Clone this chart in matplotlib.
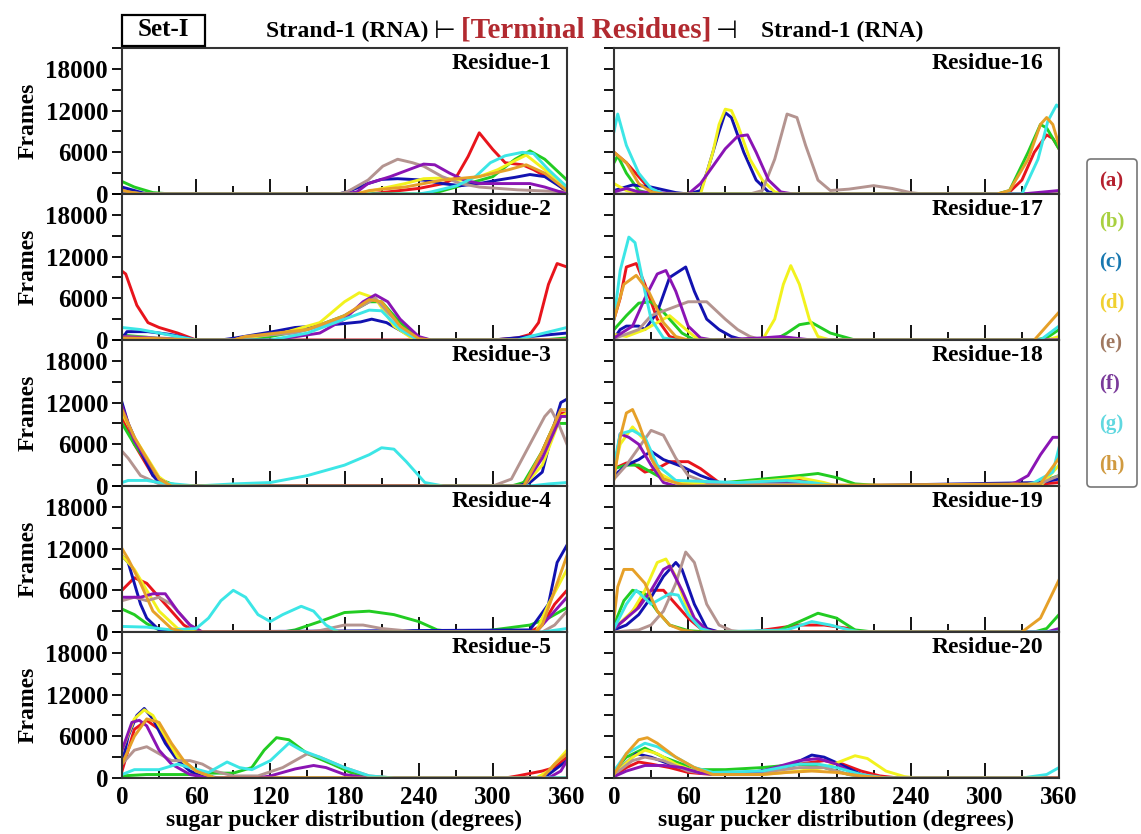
import matplotlib.pyplot as plt
import matplotlib.ticker as mticker
from matplotlib.lines import Line2D
from matplotlib.patches import Rectangle

plt.rcParams['font.family'] = ['Liberation Serif', 'DejaVu Sans']
plt.rcParams['font.weight'] = 'bold'

series = ['a', 'b', 'c', 'd', 'e', 'f', 'g', 'h']
line_colors = ['#e8141c', '#22cc22', '#1212b0', '#f2f21e',
               '#b49490', '#8a14b4', '#3ce6e6', '#e6a028']
label_colors = ['#b5202e', '#a8d040', '#1878b0', '#f0d030',
                '#a07860', '#7a3a9a', '#60d8e0', '#d09a40']

# knots: (degrees, frames in thousands)
res1 = {
    'a': [(0, 0.5), (15, 0), (200, 0), (240, 0.8), (260, 1.5), (270, 2.3), (280, 5.4), (289, 8.8), (300, 6.4), (310, 4.5), (324, 4.2), (333, 3.5), (348, 2), (360, 0.3)],
    'b': [(0, 1.8), (10, 1), (25, 0.2), (40, 0), (250, 0), (270, 1), (300, 2.5), (318, 5), (330, 6.2), (342, 5), (360, 2)],
    'c': [(0, 1), (10, 0.5), (20, 0), (175, 0), (182, 0.3), (199, 1.5), (210, 2.1), (223, 2.2), (244, 2), (259, 1.5), (274, 1.2), (289, 1.5), (304, 2), (318, 2.4), (330, 2.8), (342, 2.5), (355, 1), (360, 0.3)],
    'd': [(0, 0.3), (20, 0), (185, 0), (200, 0.4), (229, 1.5), (244, 2.2), (259, 2.3), (274, 2), (289, 2.5), (304, 3.5), (318, 4.8), (327, 5.6), (342, 3.5), (360, 1)],
    'e': [(0, 0.3), (20, 0), (175, 0), (182, 0.3), (199, 2), (211, 4), (223, 5), (235, 4.5), (244, 4), (259, 2.5), (274, 1.5), (289, 1), (320, 0.6), (360, 0.3)],
    'f': [(0, 0.2), (20, 0), (180, 0), (190, 0.3), (199, 1.5), (217, 2.5), (229, 3.3), (244, 4.3), (253, 4.2), (265, 3), (277, 2), (289, 1.5), (318, 1.5), (330, 1.5), (342, 1), (360, 0)],
    'g': [(0, 0), (240, 0), (250, 0.3), (271, 1.2), (286, 2.5), (298, 4.5), (310, 5.5), (324, 6), (333, 5.8), (345, 3.5), (360, 1)],
    'h': [(0, 0.5), (15, 0), (190, 0), (200, 0.5), (229, 1), (259, 2), (289, 2.5), (313, 3.5), (327, 4.2), (342, 3), (360, 0.5)],
}
res2 = {
    'a': [(0, 9.9), (3, 9.5), (12, 5), (21, 2.5), (30, 1.8), (45, 1), (60, 0), (300, 0), (320, 0.3), (330, 0.8), (337, 2.5), (345, 8), (352, 11), (360, 10.5)],
    'b': [(0, 0.7), (20, 0.4), (40, 0), (100, 0), (120, 0.5), (150, 1.5), (180, 3.5), (200, 5.5), (210, 5.5), (225, 2.5), (240, 0.3), (250, 0), (340, 0), (360, 0.3)],
    'c': [(0, 0.2), (4, 1.2), (21, 1.2), (39, 0.8), (60, 0), (80, 0), (92, 0.3), (122, 1.2), (140, 1.8), (158, 2), (176, 2.3), (193, 2.6), (202, 3), (214, 2.5), (229, 1), (241, 0.2), (250, 0), (300, 0), (330, 0.5), (360, 1)],
    'd': [(0, 0.5), (20, 0.2), (40, 0), (90, 0), (100, 0.3), (130, 1), (160, 2.5), (180, 5.5), (192, 6.8), (205, 6), (220, 2), (235, 0.2), (245, 0), (360, 0)],
    'e': [(0, 0.5), (30, 0.3), (60, 0), (90, 0), (100, 0.5), (140, 1), (170, 2.5), (190, 4.5), (205, 6), (215, 4), (230, 1), (240, 0), (360, 0)],
    'f': [(0, 0.5), (30, 0.2), (60, 0), (120, 0), (130, 0.2), (160, 1), (180, 3), (195, 5.5), (205, 6.5), (215, 5.5), (225, 3), (240, 0.5), (250, 0), (360, 0)],
    'g': [(0, 1.8), (15, 1.5), (30, 1), (60, 0), (120, 0), (150, 1), (180, 3), (200, 4.3), (210, 4.2), (225, 1.5), (240, 0), (320, 0), (330, 0.5), (360, 1.8)],
    'h': [(0, 0.3), (30, 0.2), (60, 0), (90, 0), (100, 0.5), (150, 1.5), (180, 3.5), (200, 5.8), (210, 5.5), (225, 2), (240, 0.2), (250, 0), (360, 0)],
}
res3 = {
    'a': [(0, 10), (10, 6), (25, 1.5), (40, 0), (320, 0), (330, 1), (345, 7), (355, 10.5), (360, 10.5)],
    'b': [(0, 9), (10, 6), (30, 1), (40, 0.3), (50, 0), (315, 0), (325, 0.5), (340, 5), (350, 9), (360, 9)],
    'c': [(0, 12), (5, 9), (15, 5), (25, 1.5), (30, 0.5), (40, 0), (320, 0), (330, 0.5), (340, 2), (350, 9), (355, 12), (360, 12.5)],
    'd': [(0, 10.5), (10, 7), (30, 1.3), (40, 0), (325, 0), (340, 3), (355, 10), (360, 10.5)],
    'e': [(0, 5), (5, 4), (15, 1.5), (30, 0.3), (40, 0), (300, 0), (315, 1), (330, 6), (342, 10), (347, 11), (353, 9), (360, 6)],
    'f': [(0, 11.5), (10, 6.5), (30, 1), (40, 0), (325, 0), (340, 4), (355, 10), (360, 10)],
    'g': [(0, 0.5), (5, 0.8), (20, 0.8), (30, 0.5), (60, 0), (90, 0.3), (120, 0.5), (150, 1.5), (180, 3), (200, 4.5), (210, 5.5), (220, 5.3), (230, 3.5), (245, 0.5), (260, 0), (330, 0), (345, 0.3), (360, 0.5)],
    'h': [(0, 11), (10, 7), (30, 1), (40, 0), (325, 0), (340, 5), (355, 11), (360, 11)],
}
res4 = {
    'a': [(0, 6), (10, 7.8), (20, 7), (30, 5), (40, 3), (50, 1), (60, 0), (330, 0), (340, 1), (350, 4), (360, 6)],
    'b': [(0, 3.3), (10, 2.5), (20, 1.2), (30, 0.3), (40, 0), (130, 0), (140, 0.3), (160, 1.5), (180, 2.8), (200, 3), (220, 2.5), (240, 1.5), (255, 0.3), (270, 0), (290, 0), (300, 0.3), (330, 1), (345, 2), (360, 3.5)],
    'c': [(0, 11), (5, 10), (10, 7), (15, 4), (20, 2), (30, 0.3), (40, 0), (330, 0.3), (345, 4), (352, 10), (360, 12.5)],
    'd': [(0, 11), (10, 9), (20, 6), (30, 3), (45, 0.5), (60, 0), (335, 0), (345, 4), (360, 9)],
    'e': [(0, 4.5), (10, 5), (20, 4.5), (30, 5), (40, 4), (55, 1), (65, 0), (150, 0), (160, 0.2), (180, 1), (195, 1), (210, 0.5), (240, 0), (340, 0), (350, 1), (360, 3)],
    'f': [(0, 5), (15, 5), (25, 5.5), (35, 5.5), (45, 3), (55, 1), (65, 0), (335, 0), (345, 2), (360, 5)],
    'g': [(0, 0.8), (20, 0.7), (40, 0.3), (60, 0.5), (70, 2), (80, 4.5), (90, 6), (100, 5), (110, 2.5), (120, 1.5), (130, 2.5), (145, 3.7), (155, 3), (165, 1), (175, 0), (340, 0), (360, 0.5)],
    'h': [(0, 12), (5, 10.5), (15, 7), (25, 3), (40, 0.5), (50, 0), (335, 0), (340, 1), (350, 6), (360, 11)],
}
res5 = {
    'a': [(0, 1), (10, 7), (20, 8.3), (30, 7), (45, 3), (60, 1), (75, 0), (310, 0), (320, 0.3), (340, 1), (350, 1.5), (360, 3)],
    'b': [(0, 0.3), (20, 0.5), (60, 0.5), (70, 0.7), (90, 0.7), (105, 1.5), (115, 4), (125, 5.8), (135, 5.5), (150, 3.5), (170, 2), (185, 0.8), (200, 0.2), (220, 0), (360, 0)],
    'c': [(0, 2), (5, 6), (12, 9), (18, 10), (25, 8.5), (35, 5), (45, 2.5), (55, 1), (65, 0.3), (80, 0), (335, 0), (345, 0.5), (360, 2.5)],
    'd': [(0, 4), (10, 8.5), (18, 9.8), (25, 9), (35, 6), (45, 3), (60, 1), (75, 0), (335, 0), (345, 1), (360, 4)],
    'e': [(0, 2), (10, 4), (20, 4.5), (30, 3.5), (40, 2.5), (55, 2.5), (65, 2), (75, 1), (90, 0.3), (110, 0.3), (130, 1.5), (150, 3.5), (160, 3), (180, 1.5), (200, 0.3), (220, 0), (360, 0)],
    'f': [(0, 4), (8, 8), (14, 8.3), (20, 7.5), (30, 4), (40, 2), (55, 0.5), (70, 0), (110, 0), (120, 0.3), (140, 1.3), (155, 1.8), (165, 1.5), (180, 0.5), (200, 0), (345, 0), (355, 1), (360, 2.5)],
    'g': [(0, 0.5), (10, 1.2), (30, 1.2), (45, 2), (55, 1.5), (70, 0.8), (85, 2.3), (95, 1.5), (105, 1.2), (120, 2.5), (135, 5), (145, 4), (160, 3), (180, 1.5), (200, 0.3), (220, 0), (360, 0)],
    'h': [(0, 2), (10, 6), (20, 8.5), (30, 8), (40, 5), (50, 2.5), (60, 1), (75, 0), (340, 0), (350, 2), (360, 3.5)],
}
res16 = {
    'a': [(0, 6), (10, 4.5), (20, 2.5), (30, 0.5), (40, 0), (310, 0), (320, 0.3), (330, 2), (340, 6), (350, 8.5), (355, 8), (360, 6.5)],
    'b': [(0, 4.5), (3, 5.5), (10, 3), (20, 0.5), (30, 0), (310, 0), (320, 0.5), (335, 6), (345, 10), (350, 9.5), (360, 6.5)],
    'c': [(0, 0.5), (15, 1.3), (30, 1), (50, 0.2), (60, 0), (70, 0.5), (75, 3), (85, 9), (90, 11.7), (95, 11), (105, 6), (115, 2), (125, 0.3), (135, 0), (360, 0)],
    'd': [(0, 1.5), (10, 0.5), (20, 0), (70, 0), (75, 3), (80, 6), (85, 10), (90, 12.2), (95, 12), (100, 10), (110, 5), (120, 2), (130, 0.3), (140, 0), (360, 0)],
    'e': [(0, 0), (110, 0), (120, 0.5), (130, 5), (140, 11.5), (148, 11), (155, 7), (165, 2), (175, 0.5), (190, 0.7), (210, 1.2), (225, 0.8), (240, 0.2), (250, 0), (360, 0)],
    'f': [(0, 0.3), (10, 0.8), (20, 0.3), (60, 0), (70, 1.5), (80, 4), (90, 6.5), (100, 8.3), (108, 8.5), (115, 6), (125, 2), (135, 0.3), (145, 0), (330, 0), (360, 0.5)],
    'g': [(0, 9), (3, 11.5), (10, 7), (20, 3), (30, 0.8), (40, 0), (330, 0), (343, 5), (351, 10.5), (358, 12.8), (360, 12.5)],
    'h': [(0, 6), (10, 4.5), (20, 1.5), (30, 0.3), (40, 0), (310, 0), (320, 0.5), (335, 5), (345, 10), (350, 11), (355, 10), (360, 7)],
}
res17 = {
    'a': [(0, 3), (5, 6), (10, 10.5), (18, 11), (25, 8), (35, 3), (45, 0.5), (55, 0), (360, 0)],
    'b': [(0, 1.5), (10, 3.5), (20, 5.3), (30, 5.5), (40, 4), (55, 1), (65, 0), (130, 0), (140, 1), (150, 2.2), (160, 2.5), (175, 1), (195, 0), (340, 0), (350, 0.3), (360, 1.5)],
    'c': [(0, 0.2), (5, 1.5), (10, 2), (20, 2), (25, 1.5), (35, 4), (45, 9), (58, 10.5), (65, 7), (75, 3), (85, 1.5), (95, 0.5), (105, 0), (360, 0)],
    'd': [(0, 0.8), (10, 0.5), (25, 1.5), (45, 3.5), (55, 2), (65, 0.5), (75, 0), (120, 0), (130, 3), (137, 8), (143, 10.7), (150, 8), (158, 3), (165, 0.5), (175, 0), (350, 0), (360, 0.5)],
    'e': [(0, 0.2), (20, 1.5), (30, 3.5), (45, 4.5), (60, 5.5), (75, 5.5), (90, 3), (100, 1.5), (110, 0.5), (120, 0), (360, 0)],
    'f': [(0, 0.3), (15, 2), (25, 6), (35, 9.5), (42, 10), (50, 7), (60, 2), (70, 0.3), (80, 0), (120, 0.3), (135, 0.5), (150, 0.2), (160, 0), (360, 0)],
    'g': [(0, 3), (5, 10), (12, 14.8), (17, 14), (25, 7), (30, 3), (40, 0.3), (50, 0), (345, 0), (360, 2)],
    'h': [(0, 3), (8, 8), (18, 9.3), (28, 7), (40, 2.5), (50, 0.5), (60, 0), (340, 0), (350, 2), (360, 4)],
}
res18 = {
    'a': [(0, 2.5), (10, 3.3), (15, 3.3), (25, 2), (35, 2.5), (45, 3.5), (60, 3.5), (70, 2.5), (85, 0.5), (110, 0.5), (140, 1.2), (160, 0.5), (180, 0), (340, 0.2), (360, 0.5)],
    'b': [(0, 2.5), (10, 3), (20, 3), (30, 2), (40, 1), (60, 0.5), (90, 0.5), (120, 1), (150, 1.5), (165, 1.8), (180, 1.2), (195, 0.3), (220, 0), (340, 0.3), (360, 1.5)],
    'c': [(0, 1.5), (10, 3), (20, 3.8), (30, 5), (40, 3.8), (55, 2.8), (70, 1.5), (85, 0.5), (100, 0.3), (120, 0.5), (140, 0.5), (160, 0.3), (180, 0), (345, 0.5), (360, 1)],
    'd': [(0, 2), (5, 6), (15, 8.5), (25, 6.5), (35, 2), (50, 0.5), (90, 0.3), (140, 1), (150, 1.2), (170, 0.5), (180, 0), (345, 0), (360, 3)],
    'e': [(0, 1), (10, 3), (20, 5.5), (30, 8), (40, 7.3), (50, 4), (60, 1.5), (75, 0.5), (100, 0.3), (150, 0.3), (200, 0), (340, 0), (360, 1.5)],
    'f': [(0, 2), (5, 7.5), (12, 7), (20, 6), (30, 3), (40, 0.5), (50, 0), (315, 0), (325, 0.5), (335, 1.5), (345, 4.5), (355, 7), (360, 7)],
    'g': [(0, 3), (5, 7.5), (15, 8), (25, 7), (35, 3), (50, 0.8), (100, 0.5), (140, 0.8), (160, 0.5), (180, 0), (330, 0), (340, 0.5), (355, 2), (360, 5.5)],
    'h': [(0, 1), (5, 7), (10, 10.5), (15, 11), (20, 9), (30, 4), (40, 1), (55, 0.2), (70, 0), (345, 0.3), (360, 4)],
}
res19 = {
    'a': [(0, 0.5), (10, 2), (20, 4), (30, 6), (40, 6), (50, 4), (60, 2), (70, 0.5), (80, 0), (110, 0), (130, 0.5), (150, 1), (170, 1), (190, 0.5), (200, 0), (360, 0)],
    'b': [(0, 1), (8, 4.5), (15, 6), (25, 5.5), (35, 3), (45, 1), (60, 0.2), (75, 0), (130, 0), (150, 1.5), (165, 2.7), (180, 2), (195, 0.3), (210, 0), (340, 0), (350, 0.5), (360, 2.5)],
    'c': [(0, 0.3), (10, 1), (20, 2.5), (30, 5), (40, 8), (50, 10), (55, 9), (65, 4), (75, 0.5), (85, 0), (360, 0)],
    'd': [(0, 0.5), (15, 3), (25, 6), (35, 10), (42, 10.5), (50, 8), (60, 3), (70, 0.5), (80, 0), (360, 0)],
    'e': [(0, 0), (20, 0.3), (30, 1), (40, 3), (50, 7), (58, 11.5), (65, 10), (75, 4), (85, 1), (95, 0.2), (105, 0), (360, 0)],
    'f': [(0, 0.5), (10, 2), (20, 3.5), (30, 6), (40, 9), (45, 9.5), (55, 6), (65, 2), (75, 0.3), (85, 0), (350, 0), (360, 0.5)],
    'g': [(0, 0.5), (10, 4), (18, 6), (30, 4), (45, 5.5), (52, 5.3), (60, 2.5), (70, 0.5), (80, 0), (140, 0.3), (160, 1.5), (175, 1), (190, 0.3), (200, 0), (360, 0)],
    'h': [(0, 2), (3, 6.5), (8, 9), (15, 9), (25, 7), (35, 3), (45, 1), (55, 0.3), (65, 0), (330, 0), (345, 2), (360, 7.5)],
}
res20 = {
    'a': [(0, 0.3), (10, 1.5), (20, 2.3), (30, 2), (45, 1.5), (60, 0.8), (80, 0.5), (120, 0.8), (150, 2), (170, 2.5), (185, 2), (200, 1), (215, 0.3), (230, 0), (360, 0)],
    'b': [(0, 1), (10, 3), (25, 4.3), (40, 3), (55, 2), (70, 1.2), (90, 1.2), (120, 1.5), (150, 2), (170, 1.5), (190, 0.5), (210, 0), (360, 0)],
    'c': [(0, 0.5), (10, 2.2), (18, 3.5), (30, 3), (45, 2), (60, 1.2), (80, 0.5), (120, 1), (145, 2), (160, 3.3), (170, 3), (185, 1.8), (200, 0.5), (215, 0), (360, 0)],
    'd': [(0, 0.5), (15, 3), (25, 4), (35, 3.5), (50, 2), (65, 1), (90, 0.5), (120, 0.5), (150, 1), (170, 1.5), (185, 2.5), (195, 3.2), (205, 2.8), (220, 1), (235, 0.2), (245, 0), (360, 0)],
    'e': [(0, 0.5), (15, 2.5), (25, 3), (40, 2.5), (60, 1), (80, 0.5), (120, 0.8), (150, 1.5), (170, 1.5), (190, 0.5), (210, 0), (360, 0)],
    'f': [(0, 0.2), (10, 1), (25, 1.8), (40, 1.8), (55, 1.5), (70, 0.7), (90, 0.5), (120, 1), (150, 2.5), (165, 2.8), (180, 2), (195, 0.5), (210, 0), (360, 0)],
    'g': [(0, 1), (10, 3.5), (25, 5), (35, 4.5), (50, 3), (65, 1.5), (80, 0.8), (120, 1), (150, 2), (165, 2), (180, 1.5), (200, 0.5), (220, 0), (330, 0), (350, 0.5), (360, 1.5)],
    'h': [(0, 0.5), (10, 3.5), (20, 5.5), (27, 5.8), (35, 5), (50, 3), (65, 1.5), (80, 0.5), (120, 0.5), (140, 0.8), (160, 1), (180, 0.8), (200, 0.3), (220, 0), (360, 0)],
}

left_panels = [('Residue-1', res1), ('Residue-2', res2), ('Residue-3', res3),
               ('Residue-4', res4), ('Residue-5', res5)]
right_panels = [('Residue-16', res16), ('Residue-17', res17), ('Residue-18', res18),
                ('Residue-19', res19), ('Residue-20', res20)]

W, H = 1141, 834
fig = plt.figure(figsize=(W / 100, H / 100), dpi=100)

col_x = [122, 614]
ax_w = 445
row_top = 48
row_h = 146


def draw_panel(ax, name, data, left, bottom_row):
    for s, col in zip(series, line_colors):
        xs = [p[0] for p in data[s]]
        ys = [p[1] * 1000 for p in data[s]]
        ax.plot(xs, ys, color=col, lw=2.1, solid_joinstyle='round')
    ax.set_xlim(0, 360)
    ax.set_ylim(0, 21000)
    ax.xaxis.set_major_locator(mticker.MultipleLocator(60))
    ax.xaxis.set_minor_locator(mticker.MultipleLocator(30))
    ax.yaxis.set_major_locator(mticker.MultipleLocator(6000))
    ax.yaxis.set_minor_locator(mticker.MultipleLocator(3000))
    ax.tick_params(axis='x', which='major', direction='in', length=11, width=1.3,
                   top=False, labelsize=18, pad=6, labelbottom=bottom_row)
    ax.tick_params(axis='x', which='minor', direction='in', length=6, width=1.3, top=False)
    ax.tick_params(axis='y', which='both', direction='out', length=7, width=1.3,
                   right=False, labelsize=18, labelleft=left, pad=3)
    for sp in ax.spines.values():
        sp.set_linewidth(1.5)
        sp.set_color('#333333')
    ax.text(0.965, 0.895, name, transform=ax.transAxes, ha='right', va='center',
            fontsize=17, fontweight='bold')
    if left:
        ax.set_ylabel('Frames', fontsize=17, fontweight='bold', labelpad=5)
    if bottom_row:
        ax.set_xlabel('sugar pucker distribution (degrees)', fontsize=17,
                      fontweight='bold', labelpad=0)


for c, panels in enumerate([left_panels, right_panels]):
    for r, (name, data) in enumerate(panels):
        y0 = H - (row_top + row_h * (r + 1))
        ax = fig.add_axes([col_x[c] / W, y0 / H, ax_w / W, row_h / H])
        draw_panel(ax, name, data, c == 0, r == 4)

# header line
fig.patches.append(Rectangle((122 / W, 1 - 46 / H), 83 / W, 31 / H, transform=fig.transFigure,
                             fill=False, ec='black', lw=1.6))
fig.text(163 / W, 1 - 30 / H, 'Set-I', ha='center', va='center', fontsize=18, fontweight='bold')
fig.text(347 / W, 1 - 31 / H, 'Strand-1 (RNA)', ha='center', va='center', fontsize=17, fontweight='bold')
fig.text(445 / W, 1 - 31 / H, '\u22a2', ha='center', va='center', fontsize=18,
         family=['DejaVu Sans'], fontweight='normal')
fig.text(586 / W, 1 - 30 / H, '[Terminal Residues]', ha='center', va='center', fontsize=21,
         fontweight='bold', color='#b22a30')
fig.text(727 / W, 1 - 31 / H, '\u22a3', ha='center', va='center', fontsize=18,
         family=['DejaVu Sans'], fontweight='normal')
fig.text(842 / W, 1 - 31 / H, 'Strand-1 (RNA)', ha='center', va='center', fontsize=17, fontweight='bold')

# legend
handles = [Line2D([], [], linestyle='none') for _ in series]
labels = ['(' + s + ')' for s in series]
leg = fig.legend(handles, labels, loc='center', bbox_to_anchor=(1112 / W, 1 - 323 / H),
                 handlelength=0, handletextpad=0, labelcolor=label_colors,
                 prop={'family': 'Liberation Serif', 'weight': 'bold', 'size': 15},
                 labelspacing=0.98, borderpad=0.6, borderaxespad=0, fancybox=True,
                 framealpha=1, edgecolor='#777777')
leg.get_frame().set_linewidth(1.2)

fig.savefig('out.png', dpi=100)
